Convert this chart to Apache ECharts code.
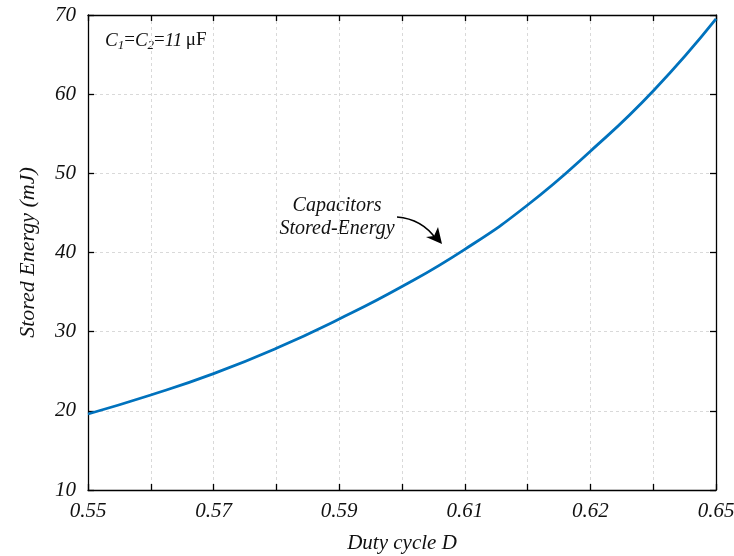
<!DOCTYPE html>
<html>
<head>
<meta charset="utf-8">
<script src="https://cdn.jsdelivr.net/npm/echarts@6/dist/echarts.min.js"></script>
<style>
  html, body { margin: 0; padding: 0; background: #fff; }
  #main { width: 734px; height: 556px; }
</style>
</head>
<body>
<div id="main"></div>
<script>
// duty cycle values and stored energy (mJ)
var dutyCycle = [0.55, 0.56, 0.57, 0.58, 0.59, 0.60, 0.61, 0.62, 0.63, 0.64, 0.65];
var storedEnergy = [19.6, 22.0, 24.7, 27.9, 31.6, 35.7, 40.4, 46.0, 52.8, 60.4, 69.5];
// labels printed under every second tick (as in the original figure)
var xTickLabels = ['0.55', '0.57', '0.59', '0.61', '0.62', '0.65'];
var yTicks = [10, 20, 30, 40, 50, 60, 70];

var serif = '"Liberation Serif", "DejaVu Serif", serif';
var chart = echarts.init(document.getElementById('main'));

var points = [];
for (var i = 0; i < dutyCycle.length; i++) {
    points.push([dutyCycle[i], storedEnergy[i]]);
}

var gridDash = { color: '#d9d9d9', type: [3, 3], width: 1 };
var frameLine = { show: true, lineStyle: { color: '#000', width: 1.3 } };
var tickStyle = { show: true, inside: true, length: 6, lineStyle: { color: '#000', width: 1.3 } };

var option = {
    animation: false,
    backgroundColor: '#fff',
    grid: { left: 88, right: 18, top: 15, bottom: 66, outerBoundsMode: 'none', containLabel: false },
    xAxis: [{
        type: 'value',
        min: 0.55, max: 0.65, interval: 0.01,
        axisLine: frameLine,
        axisTick: tickStyle,
        splitLine: { show: true, lineStyle: gridDash },
        axisLabel: {
            margin: 11,
            fontFamily: serif, fontStyle: 'italic', fontSize: 21, color: '#111',
            formatter: function (v) {
                var idx = Math.round((v - 0.55) / 0.01);
                return idx % 2 === 0 ? xTickLabels[idx / 2] : '';
            }
        },
        name: 'Duty cycle D',
        nameLocation: 'middle',
        nameGap: 43,
        nameTextStyle: { fontFamily: serif, fontStyle: 'italic', fontSize: 21, color: '#111' }
    }, {
        type: 'value', position: 'top',
        min: 0.55, max: 0.65, interval: 0.01,
        axisLine: frameLine,
        axisTick: tickStyle,
        axisLabel: { show: false },
        splitLine: { show: false }
    }],
    yAxis: [{
        type: 'value',
        min: yTicks[0], max: yTicks[yTicks.length - 1], interval: 10,
        axisLine: frameLine,
        axisTick: tickStyle,
        splitLine: { show: true, lineStyle: gridDash },
        axisLabel: {
            margin: 12,
            fontFamily: serif, fontStyle: 'italic', fontSize: 21, color: '#111'
        },
        name: 'Stored Energy (mJ)',
        nameLocation: 'middle',
        nameGap: 49,
        nameTextStyle: { fontFamily: serif, fontStyle: 'italic', fontSize: 22, color: '#111' }
    }, {
        type: 'value', position: 'right',
        min: yTicks[0], max: yTicks[yTicks.length - 1], interval: 10,
        axisLine: frameLine,
        axisTick: tickStyle,
        axisLabel: { show: false },
        splitLine: { show: false }
    }],
    series: [{
        type: 'line',
        data: points,
        smooth: 0.5,
        showSymbol: false,
        lineStyle: { color: '#0072BD', width: 2.8 },
        z: 5
    }],
    graphic: [
        {
            type: 'text', left: 105, top: 31,
            style: {
                text: '{i|C}{s|1}{n|=}{i|C}{s|2}{n|=}{i|11} {n|μF}',
                rich: {
                    i: { fontFamily: serif, fontStyle: 'italic', fontSize: 19, fill: '#111' },
                    n: { fontFamily: serif, fontSize: 19, fill: '#111' },
                    s: { fontFamily: serif, fontStyle: 'italic', fontSize: 13, fill: '#111', padding: [10, 0, 0, 0] }
                }
            }
        },
        {
            type: 'text', x: 337, y: 217,
            style: {
                text: 'Capacitors\nStored-Energy',
                fontFamily: serif, fontStyle: 'italic', fontSize: 20, fill: '#111',
                align: 'center', verticalAlign: 'middle', lineHeight: 23
            }
        },
        {
            type: 'bezierCurve',
            shape: { x1: 397, y1: 217, x2: 436, y2: 239, cpx1: 422, cpy1: 219 },
            style: { stroke: '#000', lineWidth: 1.7, fill: null }
        },
        {
            type: 'polygon',
            shape: { points: [[442, 244], [426, 237], [434, 236], [438, 227]] },
            style: { fill: '#000' }
        }
    ]
};

chart.setOption(option);
</script>
</body>
</html>
